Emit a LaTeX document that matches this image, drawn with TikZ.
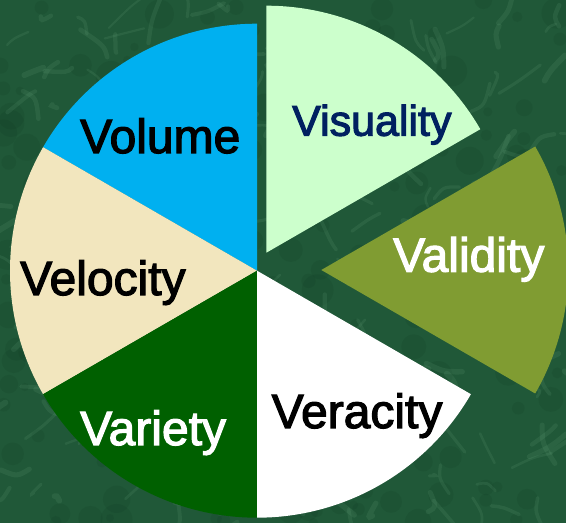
\documentclass[tikz,border=0pt]{standalone}
\usepackage{fontspec}
\setmainfont{Liberation Sans}[FakeBold=2.5]
\definecolor{bgbase}{RGB}{32,88,56}
\definecolor{bglight}{RGB}{110,170,130}
\definecolor{bgdark}{RGB}{12,50,28}
\definecolor{cvolume}{RGB}{0,176,240}
\definecolor{cvisual}{RGB}{204,255,204}
\definecolor{cvalid}{RGB}{128,156,50}
\definecolor{cveracity}{RGB}{255,255,255}
\definecolor{cvariety}{RGB}{0,96,0}
\definecolor{cvelocity}{RGB}{242,230,190}
\definecolor{navy}{RGB}{0,32,96}
\tikzset{
  lbl/.style={inner sep=0pt, anchor=base west, font=\fontsize{48}{56}\selectfont},
  lblsmall/.style={inner sep=0pt, anchor=base west, font=\fontsize{43}{50}\selectfont},
}
\begin{document}
\begin{tikzpicture}[x=1pt,y=1pt]
% background
\fill[bgbase] (0,0) rectangle (566,523);
\useasboundingbox (0,0) rectangle (566,523);
\begin{scope}
\clip (0,0) rectangle (566,523);
\pgfmathsetseed{11}
\foreach \i in {1,...,220} {
  \pgfmathsetmacro\px{rnd*566}
  \pgfmathsetmacro\py{rnd*523}
  \pgfmathsetmacro\rr{4+rnd*12}
  \fill[bgdark, opacity=0.12] (\px,\py) circle (\rr);
}
\foreach \i in {1,...,220} {
  \pgfmathsetmacro\px{rnd*566}
  \pgfmathsetmacro\py{rnd*523}
  \pgfmathsetmacro\dx{rand*24}
  \pgfmathsetmacro\dy{rand*24}
  \pgfmathsetmacro\ex{\dx*1.6+rand*12}
  \pgfmathsetmacro\ey{\dy*1.6+rand*12}
  \pgfmathsetmacro\lw{2+rnd*4}
  \draw[bglight, opacity=0.14, line width=\lw pt, line cap=round]
    (\px,\py) .. controls ++(\dx,\dy) .. ++(\ex,\ey);
}
\end{scope}
% pie geometry
\coordinate (c) at (257,252.3);
\coordinate (cvis) at (266.4,270.3);
\coordinate (cval) at (321.3,253);
\def\R{247}
\fill[cvolume]   (c) -- ++(90:\R)  arc (90:150:\R)  -- cycle;
\fill[cvelocity] (c) -- ++(150:\R) arc (150:210:\R) -- cycle;
\fill[cvariety]  (c) -- ++(210:\R) arc (210:270:\R) -- cycle;
\fill[cveracity] (c) -- ++(270:\R) arc (270:330:\R) -- cycle;
\fill[cvalid]    (cval) -- ++(-30:\R) arc (-30:30:\R) -- cycle;
\fill[cvisual]   (cvis) -- ++(30:\R) arc (30:90:\R) -- cycle;
% labels
\node[lbl] (volume) at (80,370) {Volume};
\node[lblsmall, text=navy] (visuality) at (292,387.3) {Visuality};
\node[lbl, text=white] (validity) at (393,251.3) {Validity};
\node[lbl] (velocity) at (20,228) {Velocity};
\node[lbl, text=white] (variety) at (80,78) {Variety};
\node[lbl] (veracity) at (271.5,95) {Veracity};
\end{tikzpicture}
\end{document}
